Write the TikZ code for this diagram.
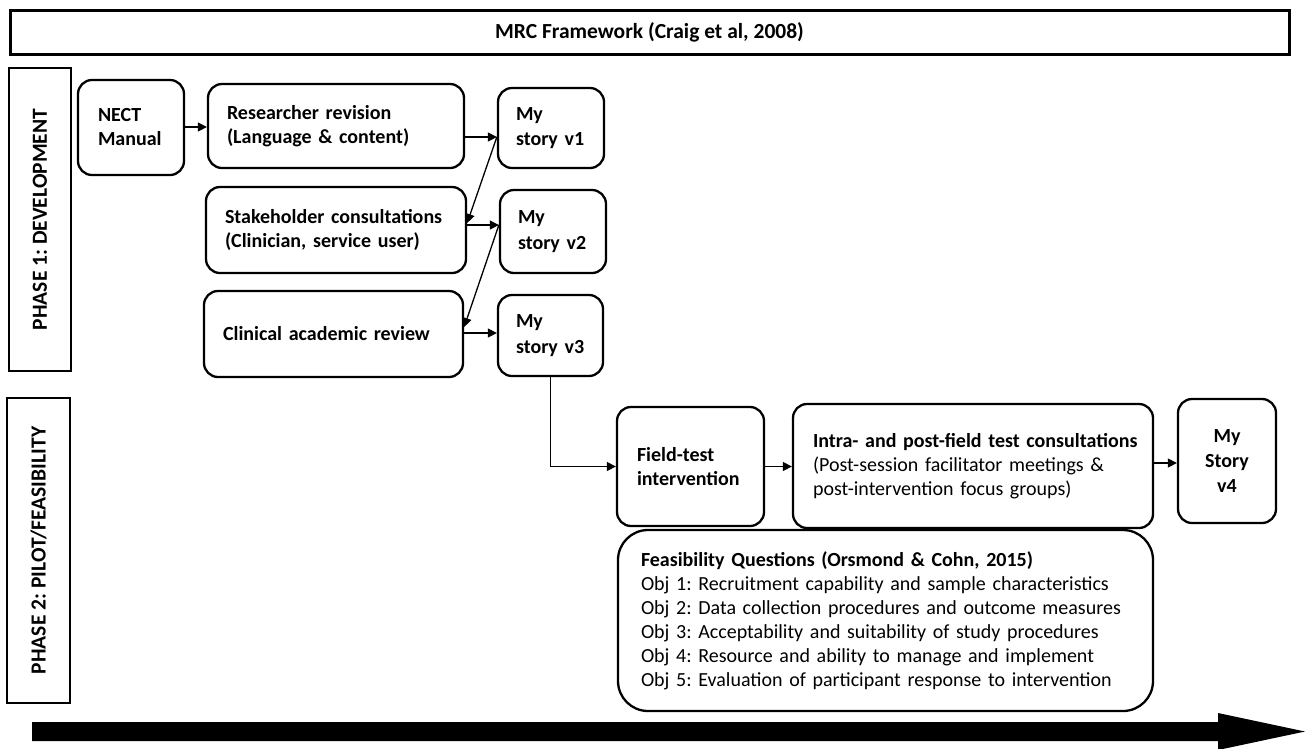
\documentclass[tikz,border=0pt]{standalone}
\usepackage{fontspec}
\setmainfont{Carlito}
\usetikzlibrary{arrows.meta}
\begin{document}
\frenchspacing
\begin{tikzpicture}[x=1pt,y=-1pt,
  box/.style={draw, rounded corners=14pt, line width=2.3pt, align=left,
    font=\fontsize{20}{24}\selectfont\bfseries, inner ysep=0pt, anchor=center},
  story/.style={box, font=\fontsize{20}{25.5}\selectfont\bfseries},
  phasebox/.style={draw, line width=2.5pt, inner sep=0pt},
  phasetext/.style={rotate=90, font=\fontsize{21.5}{24}\selectfont\bfseries, inner sep=0pt},
  arr/.style={line width=1.3pt, -{Triangle[length=9pt,width=9pt]}}]
\useasboundingbox (0,0) rectangle (1306,748);

% title
\node[draw, line width=3pt, minimum width=1279pt, minimum height=44pt, inner sep=0pt,
  font=\fontsize{21.5}{24}\selectfont\bfseries] (mrc) at (649.5,32) {MRC Framework (Craig et al, 2008)};

% phase boxes
\node[phasebox, minimum width=62pt, minimum height=303pt] (ph1) at (40,219.5) {};
\node[phasetext] (ph1t) at (ph1.center) {PHASE 1: DEVELOPMENT};
\node[phasebox, minimum width=63pt, minimum height=305pt] (ph2) at (38.5,550.5) {};
\node[phasetext] (ph2t) at (ph2.center) {PHASE 2: PILOT/FEASIBILITY};

% phase 1 boxes
\node[box, inner xsep=20pt, text width=66pt, minimum height=95pt] (nect) at (131,127.5) {NECT\\Manual};
\node[box, inner xsep=19pt, text width=218pt, minimum height=84pt] (res) at (336,126) {Researcher revision\\(Language \& content)};
\node[box, inner xsep=19pt, text width=222pt, minimum height=86pt] (stake) at (336,230) {Stakeholder consultations\\(Clinician, service user)};
\node[box, inner xsep=19pt, text width=221pt, minimum height=86pt] (clin) at (333.5,334) {Clinical academic review};

\node[story, inner xsep=18pt, text width=70pt, minimum height=80pt] (v1) at (551,128) {My\\\mbox{story v1}};
\node[story, inner xsep=18pt, text width=70pt, minimum height=83pt] (v2) at (553,231.5) {My\\\mbox{story v2}};
\node[story, inner xsep=18pt, text width=69pt, minimum height=81pt] (v3) at (550.5,335.5) {My\\\mbox{story v3}};

% phase 2 boxes
\node[box, inner xsep=20pt, text width=107pt, minimum height=119pt] (field) at (690.5,466.5) {Field-test\\intervention};
\node[box, inner xsep=20pt, text width=320pt, minimum height=124pt] (intra) at (973,466) {\mbox{Intra- and post-field test consultations}\\
  {\mdseries (Post-session facilitator meetings \&}\\ {\mdseries post-intervention focus groups)}};
\node[box, align=center, inner xsep=10pt, text width=78pt, minimum height=124pt,
  font=\fontsize{20}{25}\selectfont\bfseries] (v4) at (1227,461) {My\\Story\\v4};
\node[box, rounded corners=30pt, inner xsep=23pt, text width=489pt, minimum height=181pt] (feas) at (885.5,620.5)
  {Feasibility Questions (Orsmond \& Cohn, 2015)\\
  {\mdseries Obj 1: Recruitment capability and sample characteristics}\\
  {\mdseries Obj 2: Data collection procedures and outcome measures}\\
  {\mdseries Obj 3: Acceptability and suitability of study procedures}\\
  {\mdseries Obj 4: Resource and ability to manage and implement}\\
  {\mdseries Obj 5: Evaluation of participant response to intervention}};

% connectors
\draw[arr] (nect.east |- 0,127) -- (res.west |- 0,127);
\draw[arr] (res.east |- 0,137) -- (v1.west |- 0,137);
\draw[arr] (v1.west |- 0,137) -- (stake.east |- 0,223);
\draw[arr] (stake.east |- 0,225) -- (v2.west |- 0,225);
\draw[arr] (v2.west |- 0,225) -- (clin.east |- 0,327);
\draw[arr] (clin.east |- 0,333) -- (v3.west |- 0,333);
\draw[arr] (v3.south) |- (field.west);
\draw[arr] (field.east) -- (field.east -| intra.west);
\draw[arr] (intra.east |- 0,463) -- (v4.west |- 0,463);

% timeline arrow
\coordinate (tl0) at (32,731.5);
\coordinate (tl1) at (1305,731.5);
\fill (tl0) ++(0,-9.5) -- (1218,722) -- (1218,713) -- (tl1) -- (1218,750) -- (1218,741) -- (32,741) -- cycle;
\end{tikzpicture}
\end{document}
